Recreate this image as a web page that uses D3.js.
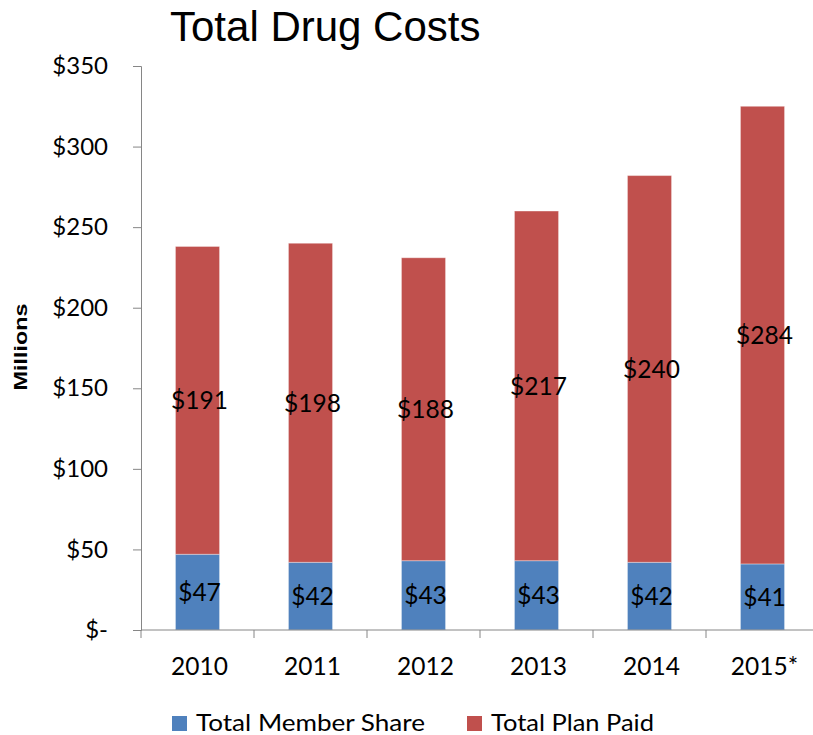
<!DOCTYPE html>
<html><head><meta charset="utf-8">
<script src="https://cdnjs.cloudflare.com/ajax/libs/d3/7.8.5/d3.min.js"></script>
<style>body{margin:0;background:#fff}svg{display:block}</style>
</head><body>
<svg id="c" width="813" height="735"></svg>
<script>
const categories = ["2010","2011","2012","2013","2014","2015*"];
const memberShare = [47,42,43,43,42,41];
const planPaid = [191,198,188,217,240,284];
const yTicks = [0,50,100,150,200,250,300,350];
const seriesNames = ["Total Member Share","Total Plan Paid"];
const colors = ["#4F81BD","#C0504D"];

const svg = d3.select("#c");
const F = "Lato, 'Open Sans', sans-serif";
const x = d3.scaleBand().domain(categories).range([141,819]).paddingInner(0.61).paddingOuter(0.305);
const y = d3.scaleLinear().domain([0,350]).range([630,66]);

// title
svg.append("text").attr("x",170).attr("y",41).attr("font-family","'Liberation Sans', Arial, sans-serif")
  .attr("font-size",42).attr("fill","#000").text("Total Drug Costs");

// y axis
const yAxis = d3.axisLeft(y).tickValues(yTicks).tickSize(8).tickPadding(25)
  .tickFormat(d => d===0 ? "$-" : "$"+d);
const gy = svg.append("g").attr("transform","translate(141,0)").call(yAxis);
gy.select(".domain").attr("stroke","#868686");
gy.selectAll(".tick line").attr("stroke","#868686");
gy.selectAll(".tick text").attr("font-family",F).attr("font-size",24).attr("fill","#000");

// stack
const rows = categories.map((c,i)=>({cat:c, m:memberShare[i], p:planPaid[i]}));
const stack = d3.stack().keys(["m","p"])(rows);
stack.forEach((layer,li)=>{
  svg.append("g").selectAll("rect").data(layer).join("rect")
    .attr("x",d=>x(d.data.cat)).attr("width",x.bandwidth())
    .attr("y",d=>y(d[1])).attr("height",d=>y(d[0])-y(d[1]))
    .attr("fill",colors[li]).attr("stroke","rgba(255,255,255,0.35)").attr("stroke-width",1);
  svg.append("g").selectAll("text").data(layer).join("text")
    .attr("x",d=>x(d.data.cat)+x.bandwidth()/2+2).attr("y",d=>(y(d[0])+y(d[1]))/2+9)
    .attr("text-anchor","middle").attr("font-family",F).attr("font-size",24.5).attr("fill","#000")
    .text(d=>"$"+(d[1]-d[0]));
});

// x axis
const step = x.step();
const gx = svg.append("g");
gx.append("line").attr("x1",141).attr("x2",819).attr("y1",y(0)).attr("y2",y(0)).attr("stroke","#868686");
const bounds = d3.range(categories.length+1).map(i=>141+i*step);
gx.selectAll(".tk").data(bounds).join("line").attr("class","tk")
  .attr("x1",d=>d).attr("x2",d=>d).attr("y1",y(0)).attr("y2",y(0)+8).attr("stroke","#868686");
gx.selectAll(".lb").data(categories).join("text").attr("class","lb")
  .attr("x",d=>x(d)+x.bandwidth()/2+2).attr("y",675).attr("text-anchor","middle")
  .attr("font-family",F).attr("font-size",24.5).attr("fill","#000").text(d=>d);

// y title
svg.append("text").attr("transform","translate(27,347) rotate(-90)").attr("text-anchor","middle")
  .attr("font-family","'Liberation Sans', Arial, sans-serif").attr("font-weight","bold").attr("font-size",18)
  .attr("textLength",87).attr("lengthAdjust","spacingAndGlyphs").attr("fill","#000").text("Millions");

// legend
const legX = [172,467];
const legLen = [229,163];
seriesNames.forEach((n,i)=>{
  svg.append("rect").attr("x",legX[i]).attr("y",716).attr("width",15).attr("height",15).attr("fill",colors[i]);
  svg.append("text").attr("x",legX[i]+24).attr("y",731).attr("font-family",F).attr("font-size",23)
    .attr("textLength",legLen[i]).attr("lengthAdjust","spacingAndGlyphs")
    .attr("fill","#000").text(n);
});
</script>
</body></html>
